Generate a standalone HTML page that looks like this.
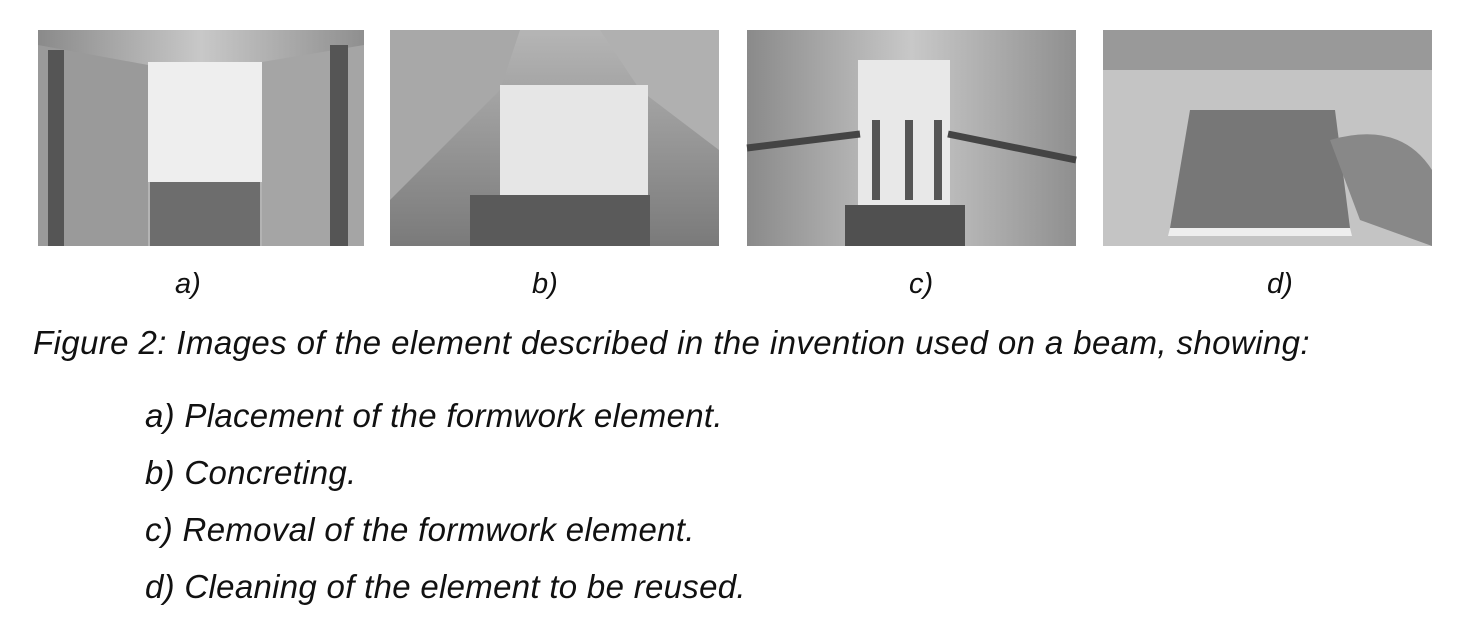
<!DOCTYPE html>
<html><head><meta charset="utf-8"><style>
body{margin:0;width:1470px;height:639px;background:#fff;position:relative;overflow:hidden;font-family:"Liberation Sans",Arial,sans-serif;font-style:italic;color:#111}
.t{position:absolute;white-space:nowrap}
.l{font-size:29px}
.i{font-size:33px;letter-spacing:0.3px}
.c{font-size:33px;letter-spacing:0.4px}
svg{position:absolute;top:0;left:0}
</style></head><body>
<svg width="1470" height="639">
<defs>
<linearGradient id="w" x1="0" x2="1"><stop offset="0" stop-color="#8a8a8a"/><stop offset=".5" stop-color="#c8c8c8"/><stop offset="1" stop-color="#8f8f8f"/></linearGradient>
<linearGradient id="v" x1="0" y1="0" x2="0" y2="1"><stop offset="0" stop-color="#b5b5b5"/><stop offset="1" stop-color="#7a7a7a"/></linearGradient>
</defs>
<rect x="38" y="30" width="326" height="216" fill="url(#w)"/>
<polygon points="38,45 148,65 148,246 38,246" fill="#9a9a9a"/>
<polygon points="364,45 262,62 262,246 364,246" fill="#a5a5a5"/>
<rect x="148" y="62" width="114" height="120" fill="#eeeeee"/>
<rect x="48" y="50" width="16" height="196" fill="#555"/>
<rect x="330" y="45" width="18" height="201" fill="#555"/>
<rect x="150" y="182" width="110" height="64" fill="#6d6d6d"/>
<rect x="390" y="30" width="329" height="216" fill="url(#v)"/>
<polygon points="390,30 520,30 500,90 390,200" fill="#a8a8a8"/>
<polygon points="719,30 600,30 640,90 719,150" fill="#b0b0b0"/>
<rect x="500" y="85" width="148" height="110" fill="#e6e6e6"/>
<rect x="470" y="195" width="180" height="51" fill="#5a5a5a"/>
<rect x="747" y="30" width="329" height="216" fill="url(#w)"/>
<rect x="858" y="60" width="92" height="150" fill="#e8e8e8"/>
<rect x="872" y="120" width="8" height="80" fill="#555"/><rect x="905" y="120" width="8" height="80" fill="#555"/><rect x="934" y="120" width="8" height="80" fill="#555"/>
<line x1="747" y1="148" x2="860" y2="134" stroke="#444" stroke-width="7"/>
<line x1="948" y1="134" x2="1076" y2="160" stroke="#444" stroke-width="7"/>
<rect x="845" y="205" width="120" height="41" fill="#505050"/>
<rect x="1103" y="30" width="329" height="216" fill="#c4c4c4"/>
<rect x="1103" y="30" width="329" height="40" fill="#999"/>
<polygon points="1190,110 1335,110 1350,228 1170,228" fill="#777"/>
<polygon points="1170,228 1350,228 1352,236 1168,236" fill="#eee"/>
<path d="M1330 140 Q1400 120 1432 170 L1432 246 L1360 220 Z" fill="#888"/>
</svg>
<div class="t l" style="left:175px;top:268px">a)</div>
<div class="t l" style="left:532px;top:268px">b)</div>
<div class="t l" style="left:909px;top:268px">c)</div>
<div class="t l" style="left:1267px;top:268px">d)</div>
<div class="t c" style="left:33px;top:324px">Figure 2: Images of the element described in the invention used on a beam, showing:</div>
<div class="t i" style="left:145px;top:397px">a) Placement of the formwork element.</div>
<div class="t i" style="left:145px;top:454px">b) Concreting.</div>
<div class="t i" style="left:145px;top:511px">c) Removal of the formwork element.</div>
<div class="t i" style="left:145px;top:568px">d) Cleaning of the element to be reused.</div>
</body></html>
